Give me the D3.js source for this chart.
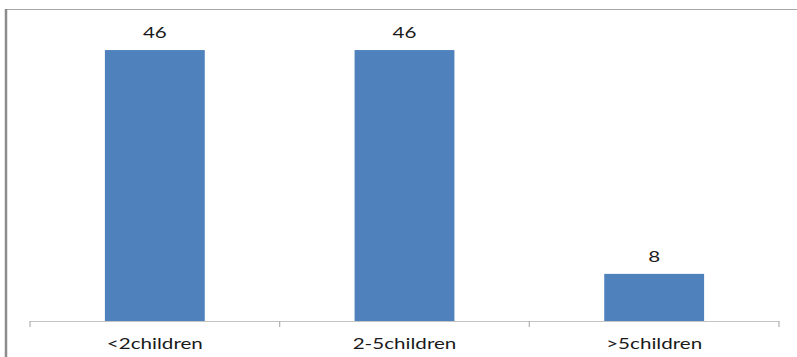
<!DOCTYPE html>
<html>
<head>
<meta charset="utf-8">
<script src="https://cdn.jsdelivr.net/npm/d3@7"></script>
<style>
  html, body { margin: 0; padding: 0; background: #fff; }
  svg { display: block; }
</style>
</head>
<body>
<svg id="chart" width="797" height="357"></svg>
<script>
// Number of children per family (percent)
const categories = ["<2children", "2-5children", ">5children"];
const values = [46, 46, 8];
const yMax = 50;

const W = 797, H = 357;
const svg = d3.select("#chart");

// Chart frame (only the top and left edges fall inside the view)
svg.append("line")
  .attr("x1", 5).attr("x2", W).attr("y1", 9.5).attr("y2", 9.5)
  .attr("stroke", "#a6a6a6").attr("stroke-width", 1.2);
svg.append("line")
  .attr("x1", 6).attr("x2", 6).attr("y1", 9).attr("y2", H)
  .attr("stroke", "#8c8c8c").attr("stroke-width", 2.5);

const plot = { left: 30, right: 779, top: 26, bottom: 321 };

const x = d3.scaleBand()
  .domain(categories)
  .range([plot.left, plot.right])
  .paddingInner(0.6)
  .paddingOuter(0.3);

const y = d3.scaleLinear()
  .domain([0, yMax])
  .range([plot.bottom, plot.bottom - yMax * 5.89]);

// Bars
svg.append("g").selectAll("rect")
  .data(values)
  .join("rect")
  .attr("x", (d, i) => x(categories[i]))
  .attr("width", x.bandwidth())
  .attr("y", d => y(d))
  .attr("height", d => y(0) - y(d))
  .attr("fill", "#4f81bd");

// Category axis: boundary ticks between groups
const step = x.step();
const boundaries = d3.range(categories.length + 1).map(i => plot.left + i * step);
const axis = svg.append("g");
axis.append("line")
  .attr("x1", plot.left).attr("x2", plot.right)
  .attr("y1", plot.bottom + 0.5).attr("y2", plot.bottom + 0.5)
  .attr("stroke", "#c4c4c4").attr("stroke-width", 1.2);
axis.selectAll("line.tick")
  .data(boundaries)
  .join("line")
  .attr("class", "tick")
  .attr("x1", d => d).attr("x2", d => d)
  .attr("y1", plot.bottom).attr("y2", plot.bottom + 6)
  .attr("stroke", "#b0b0b0").attr("stroke-width", 1.2);

const font = "Lato, 'Open Sans', sans-serif";
const sx = 1.33;

// Category labels (horizontally widened glyphs)
axis.selectAll("text")
  .data(categories)
  .join("text")
  .attr("transform", d => `translate(${x(d) + x.bandwidth() / 2},349) scale(${sx},1)`)
  .attr("text-anchor", "middle")
  .attr("font-family", font)
  .attr("font-size", 15.5)
  .attr("fill", "#1a1a1a")
  .text(d => d);

// Value labels above bars
svg.append("g").selectAll("text")
  .data(values)
  .join("text")
  .attr("transform", (d, i) => `translate(${x(categories[i]) + x.bandwidth() / 2},${y(d) - 12}) scale(${sx},1)`)
  .attr("text-anchor", "middle")
  .attr("font-family", font)
  .attr("font-size", 15.5)
  .attr("fill", "#1a1a1a")
  .text(d => d);
</script>
</body>
</html>
